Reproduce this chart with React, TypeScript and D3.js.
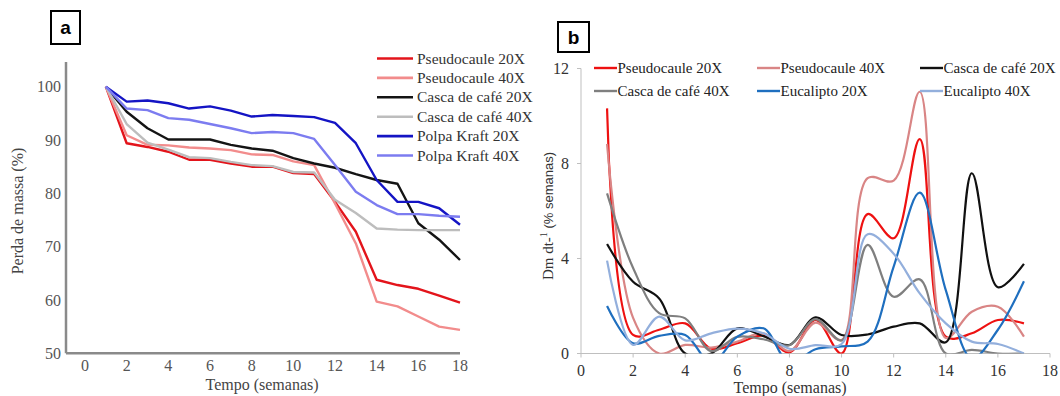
import React from "react";
import * as d3 from "d3";

// ---------- Panel a: Perda de massa (%) ----------
const weeksA = [1, 2, 3, 4, 5, 6, 7, 8, 9, 10, 11, 12, 13, 14, 15, 16, 17, 18];
const pseudo20A = [100, 89.4, 88.7, 87.8, 86.3, 86.3, 85.6, 85.0, 85.0, 83.8, 83.6, 78.4, 72.8, 63.8, 62.8, 62.1, 60.8, 59.5];
const pseudo40A = [100, 90.9, 89.1, 89.0, 88.6, 88.4, 88.1, 87.3, 87.2, 86.0, 85.3, 78.1, 70.6, 59.7, 58.8, 56.9, 55.0, 54.4];
const casca20A = [100, 95.3, 92.2, 90.1, 90.1, 90.1, 89.1, 88.4, 88.0, 86.6, 85.6, 84.8, 83.6, 82.5, 81.8, 74.4, 71.3, 67.5];
const casca40A = [100, 93.0, 89.5, 88.2, 86.8, 86.6, 85.9, 85.3, 85.1, 84.0, 83.9, 78.8, 76.3, 73.4, 73.2, 73.1, 73.1, 73.1];
const polpa20A = [100, 97.2, 97.4, 96.9, 95.9, 96.3, 95.5, 94.4, 94.7, 94.5, 94.3, 93.2, 89.4, 82.5, 78.4, 78.4, 77.2, 74.1];
const polpa40A = [100, 95.9, 95.6, 94.1, 93.8, 93.0, 92.2, 91.3, 91.5, 91.3, 90.2, 85.3, 80.3, 77.8, 76.1, 76.1, 75.8, 75.6];
const yTicksA = [50, 60, 70, 80, 90, 100];
const xTicksA = [0, 2, 4, 6, 8, 10, 12, 14, 16, 18];
const namesA = ["Pseudocaule 20X", "Pseudocaule 40X", "Casca de café 20X", "Casca de café 40X", "Polpa Kraft 20X", "Polpa Kraft 40X"];
const colorsA = ["#e3141b", "#f28c8c", "#141414", "#bdbdbd", "#1414c4", "#7c7cf0"];
const seriesA = [pseudo20A, pseudo40A, casca20A, casca40A, polpa20A, polpa40A];

// ---------- Panel b: Dm dt-1 (% semanas) ----------
const weeksB = [1, 2, 3, 4, 5, 6, 7, 8, 9, 10, 11, 12, 13, 14, 15, 16, 17];
const pseudo20B = [10.32, 0.78, 1.0, 1.27, 0.2, 0.43, 0.75, 0.05, 1.41, 0.0, 5.87, 4.85, 9.03, 0.71, 0.85, 1.41, 1.27];
const pseudo40B = [8.82, 1.5, 0.0, 0.36, 0.25, 0.5, 0.85, 0.1, 1.3, 0.57, 7.38, 7.28, 11.02, 0.65, 1.76, 1.97, 0.71];
const casca20B = [4.61, 3.02, 2.32, 0.0, 0.0, 1.06, 0.73, 0.36, 1.52, 0.78, 0.8, 1.13, 1.27, 0.47, 7.59, 2.79, 3.77];
const casca40B = [6.74, 3.6, 1.7, 1.48, 0.1, 0.7, 0.6, 0.35, 1.45, 0.55, 4.57, 2.39, 3.12, 0.0, 0.15, 0.0, 0.0];
const euc20B = [2.0, 0.43, 0.74, 0.78, -0.4, 0.71, 1.06, -0.4, 0.18, 0.3, 0.5, 3.66, 6.77, 2.67, -0.2, 1.0, 3.04];
const euc40B = [3.91, 0.36, 1.55, 0.55, 0.85, 1.05, 0.85, 0.2, 0.35, 0.4, 5.02, 4.2, 2.53, 1.27, 0.5, 0.4, 0.0];
const yTicksB = [0, 4, 8, 12];
const xTicksB = [0, 2, 4, 6, 8, 10, 12, 14, 16, 18];
const namesB = ["Pseudocaule 20X", "Pseudocaule 40X", "Casca de café 20X", "Casca de café 40X", "Eucalipto 20X", "Eucalipto 40X"];
const colorsB = ["#ee1111", "#d98585", "#111111", "#7f7f7f", "#1f6fbf", "#93afdc"];
const seriesB = [pseudo20B, pseudo40B, casca20B, casca40B, euc20B, euc40B];

const SERIF = "'Liberation Serif', 'Times New Roman', Times, serif";
const SANS = "'Liberation Sans', Arial, sans-serif";

export default function App() {
  const xA = d3.scaleLinear().domain([0, 18]).range([85, 460]);
  const yA = d3.scaleLinear().domain([50, 100]).range([353.3, 86.7]);
  const xB = d3.scaleLinear().domain([0, 18]).range([581, 1050]);
  const yB = d3.scaleLinear().domain([0, 12]).range([353.5, 68.5]);

  const lineA = (vals: number[]) =>
    d3.line<number>().x((_, i) => xA(weeksA[i])).y((d) => yA(d))(vals) || "";
  const lineB = (vals: number[]) =>
    d3
      .line<number>()
      .x((_, i) => xB(weeksB[i]))
      .y((d) => yB(d))
      .curve(d3.curveCatmullRom.alpha(0.5))(vals) || "";

  return (
    <svg
      width={1060}
      height={396}
      style={{ position: "absolute", left: 0, top: 0, display: "block", background: "#fff" }}
    >
      <defs>
        <clipPath id="clipB">
          <rect x={575} y={50} width={480} height={yB(0) - 50} />
        </clipPath>
      </defs>

      {/* ---------- Panel a ---------- */}
      <rect x={51} y={11} width={29} height={33} fill="none" stroke="#000" strokeWidth={2} />
      <text x={65.5} y={34} textAnchor="middle" fontFamily={SANS} fontWeight="bold" fontSize={19}>a</text>

      <line x1={66} x2={66} y1={62} y2={yA(50)} stroke="#8a8a8a" strokeWidth={2.5} />
      <line x1={66} x2={xA(18)} y1={yA(50)} y2={yA(50)} stroke="#8a8a8a" strokeWidth={2.5} />
      {yTicksA.map((t) => (
        <text key={"ya" + t} x={61} y={yA(t)} dy="0.35em" textAnchor="end" style={{ fontFamily: SERIF }} fontSize={16} fill="#555">
          {t}
        </text>
      ))}
      {xTicksA.map((t) => (
        <text key={"xa" + t} x={xA(t)} y={371} textAnchor="middle" style={{ fontFamily: SERIF }} fontSize={16} fill="#555">
          {t}
        </text>
      ))}
      <text x={262} y={390} textAnchor="middle" style={{ fontFamily: SERIF }} fontSize={16} fill="#444">Tempo (semanas)</text>
      <text transform="translate(23,211) rotate(-90)" textAnchor="middle" style={{ fontFamily: SERIF }} fontSize={16} fill="#444">
        Perda de massa (%)
      </text>

      {seriesA.map((s, i) => (
        <path key={"la" + i} d={lineA(s)} fill="none" stroke={colorsA[i]} strokeWidth={2.4} strokeLinejoin="round" />
      ))}

      {namesA.map((n, i) => {
        const y = 58.5 + 19.4 * i;
        return (
          <g key={"lega" + i}>
            <line x1={377} x2={413} y1={y} y2={y} stroke={colorsA[i]} strokeWidth={2.6} />
            <text x={417} y={y + 5} style={{ fontFamily: SERIF }} fontSize={15.5} fill="#333">{n}</text>
          </g>
        );
      })}

      {/* ---------- Panel b ---------- */}
      <rect x={558} y={22} width={31} height={30} fill="none" stroke="#000" strokeWidth={2} />
      <text x={573.5} y={44} textAnchor="middle" fontFamily={SANS} fontWeight="bold" fontSize={19}>b</text>

      <line x1={581} x2={581} y1={yB(12)} y2={yB(0)} stroke="#bfbfbf" strokeWidth={1} />
      <line x1={581} x2={xB(18)} y1={yB(0)} y2={yB(0)} stroke="#bfbfbf" strokeWidth={1} />
      {yTicksB.map((t) => (
        <g key={"yb" + t}>
          <line x1={577} x2={581} y1={yB(t)} y2={yB(t)} stroke="#bfbfbf" />
          <text x={569} y={yB(t)} dy="0.35em" textAnchor="end" style={{ fontFamily: SERIF }} fontSize={16} fill="#333">
            {t}
          </text>
        </g>
      ))}
      {xTicksB.map((t) => (
        <g key={"xb" + t}>
          <line x1={xB(t)} x2={xB(t)} y1={yB(0)} y2={yB(0) + 4} stroke="#bfbfbf" />
          <text x={xB(t)} y={376} textAnchor="middle" style={{ fontFamily: SERIF }} fontSize={16} fill="#333">
            {t}
          </text>
        </g>
      ))}
      <text x={790} y={393} textAnchor="middle" style={{ fontFamily: SERIF }} fontSize={16} fill="#333">Tempo (semanas)</text>
      <text transform="translate(553,216) rotate(-90)" textAnchor="middle" fill="#333">
        <tspan style={{ fontFamily: SERIF }} fontSize={15}>Dm dt-</tspan>
        <tspan style={{ fontFamily: SERIF }} fontSize={10} dy={-6}>1</tspan>
        <tspan style={{ fontFamily: SANS }} fontSize={13} dy={6}> (% semanas)</tspan>
      </text>

      <g clipPath="url(#clipB)">
        {seriesB.map((s, i) => (
          <path key={"lb" + i} d={lineB(s)} fill="none" stroke={colorsB[i]} strokeWidth={2.2} />
        ))}
      </g>

      {namesB.map((n, i) => {
        const col = i % 3;
        const row = Math.floor(i / 3);
        const lx = [594, 757, 920][col];
        const y = 68 + 23 * row;
        return (
          <g key={"legb" + i}>
            <line x1={lx} x2={lx + 23} y1={y} y2={y} stroke={colorsB[i]} strokeWidth={2.4} />
            <text x={lx + 23.5} y={y + 5} style={{ fontFamily: SERIF }} fontSize={15} fill="#222">{n}</text>
          </g>
        );
      })}
    </svg>
  );
}
